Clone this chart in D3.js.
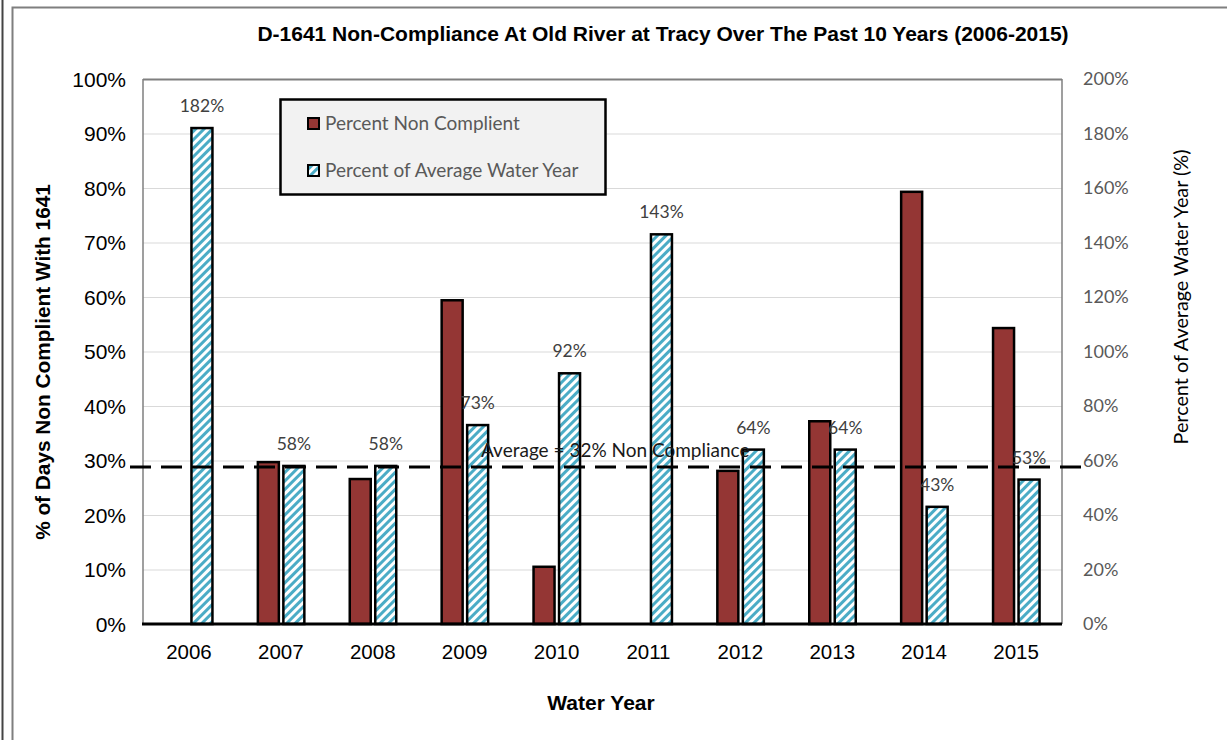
<!DOCTYPE html>
<html><head><meta charset="utf-8">
<script src="https://cdn.jsdelivr.net/npm/d3@7"></script>
<style>body{margin:0;background:#fff}svg{display:block}</style>
</head><body><svg id="c" width="1227" height="740"></svg>
<script>
const years = ["2006","2007","2008","2009","2010","2011","2012","2013","2014","2015"];
const nonCompliant = [0, 29.7, 26.6, 59.4, 10.5, 0, 28.1, 37.2, 79.3, 54.3];
const pctAvgWaterYear = [182, 58, 58, 73, 92, 143, 64, 64, 43, 53];
const averageLine = 28.8;
const leftTicks = [0,10,20,30,40,50,60,70,80,90,100];
const rightTicks = [0,20,40,60,80,100,120,140,160,180,200];

const svg = d3.select("#c");
const red = "#943634", blue = "#4bacc6";
const L = 143, R = 1062, T = 79, B = 624;
const arial = "'Liberation Sans', Arial, sans-serif";
const cal = "Lato, 'Open Sans', sans-serif";

const defs = svg.append("defs");
const pat = defs.append("pattern").attr("id","hatch").attr("patternUnits","userSpaceOnUse")
  .attr("width",6).attr("height",6).attr("patternTransform","rotate(45)");
pat.append("rect").attr("width",6).attr("height",6).attr("fill","#fff");
pat.append("rect").attr("x",0).attr("width",3).attr("height",6).attr("fill",blue);

// outer frames
svg.append("line").attr("x1",2.5).attr("x2",2.5).attr("y1",0).attr("y2",740).attr("stroke","#444").attr("stroke-width",2);
svg.append("path").attr("d","M12.5,740V7.5H1227").attr("fill","none").attr("stroke","#7f7f7f").attr("stroke-width",2);

const x = d3.scaleBand().domain(years).range([L,R]).padding(0);
const yL = d3.scaleLinear().domain([0,100]).range([B,T]);
const yR = d3.scaleLinear().domain([0,200]).range([B,T]);

// grid
svg.append("g").selectAll("line").data(leftTicks.filter(d=>d>0)).join("line")
  .attr("x1",L).attr("x2",R).attr("y1",d=>yL(d)+0.5).attr("y2",d=>yL(d)+0.5)
  .attr("stroke",d=>d===100?"#7f7f7f":"#d9d9d9").attr("stroke-width",d=>d===100?2:1);
svg.append("line").attr("x1",L).attr("x2",L).attr("y1",T).attr("y2",B).attr("stroke","#7f7f7f").attr("stroke-width",1.5);
svg.append("line").attr("x1",R).attr("x2",R).attr("y1",T).attr("y2",B).attr("stroke","#7f7f7f").attr("stroke-width",1.5);

const cx = d => x(d) + x.bandwidth()/2;
const bw = 21;
// red bars
svg.append("g").selectAll("rect").data(years.map((y,i)=>({y,v:nonCompliant[i]})).filter(d=>d.v>0)).join("rect")
  .attr("x",d=>cx(d.y)-2-bw).attr("width",bw)
  .attr("y",d=>yL(d.v)).attr("height",d=>B-yL(d.v))
  .attr("fill",red).attr("stroke","#000").attr("stroke-width",2.5);
// hatched bars
svg.append("g").selectAll("rect").data(years.map((y,i)=>({y,v:pctAvgWaterYear[i]}))).join("rect")
  .attr("x",d=>cx(d.y)+2.5).attr("width",bw)
  .attr("y",d=>yR(d.v)).attr("height",d=>B-yR(d.v))
  .attr("fill","url(#hatch)").attr("stroke","#000").attr("stroke-width",2.5);
// data labels
svg.append("g").selectAll("text").data(years.map((y,i)=>({y,v:pctAvgWaterYear[i]}))).join("text")
  .attr("x",d=>cx(d.y)+13).attr("y",d=>yR(d.v)-16)
  .attr("text-anchor","middle").attr("font-family",cal).attr("font-size",17.5)
  .attr("fill","#404040").text(d=>d.v+"%");

// bottom axis line
svg.append("line").attr("x1",L-1).attr("x2",R).attr("y1",B).attr("y2",B).attr("stroke","#000").attr("stroke-width",3);

// average dashed line
svg.append("line").attr("x1",L-13).attr("x2",R+23).attr("y1",yL(averageLine)).attr("y2",yL(averageLine))
  .attr("stroke","#000").attr("stroke-width",3).attr("stroke-dasharray","21,10");
svg.append("text").attr("x",481).attr("y",yL(averageLine)-10).attr("font-family",cal).attr("font-size",19)
  .attr("fill","#1a1a1a").text("Average = 32% Non Compliance");

// left axis labels
svg.append("g").selectAll("text").data(leftTicks).join("text")
  .attr("x",126).attr("y",d=>yL(d)+7.5).attr("text-anchor","end")
  .attr("font-family",arial).attr("font-size",21).attr("fill","#000").text(d=>d+"%");
// right axis labels
svg.append("g").selectAll("text").data(rightTicks).join("text")
  .attr("x",1083).attr("y",d=>yR(d)+6).attr("text-anchor","start")
  .attr("font-family",cal).attr("font-size",18).attr("fill","#595959").text(d=>d+"%");
// x labels
svg.append("g").selectAll("text").data(years).join("text")
  .attr("x",d=>cx(d)).attr("y",659).attr("text-anchor","middle")
  .attr("font-family",arial).attr("font-size",20.5).attr("fill","#000").text(d=>d);

// titles
svg.append("text").attr("x",663).attr("y",41).attr("text-anchor","middle")
  .attr("font-family",arial).attr("font-weight","bold").attr("font-size",21)
  .text("D-1641 Non-Compliance At Old River at Tracy Over The Past 10 Years (2006-2015)");
svg.append("text").attr("x",601).attr("y",710).attr("text-anchor","middle")
  .attr("font-family",arial).attr("font-weight","bold").attr("font-size",21)
  .text("Water Year");
svg.append("text").attr("transform","translate(50,362) rotate(-90)").attr("text-anchor","middle")
  .attr("font-family",arial).attr("font-weight","bold").attr("font-size",20.8)
  .text("% of Days Non Complient With 1641");
svg.append("text").attr("transform","translate(1188,297) rotate(-90)").attr("text-anchor","middle")
  .attr("font-family",cal).attr("font-size",19.8).attr("fill","#000")
  .text("Percent of Average Water Year (%)");

// legend
const lg = svg.append("g");
lg.append("rect").attr("x",280.5).attr("y",99.5).attr("width",325).attr("height",95)
  .attr("fill","#f2f2f2").attr("stroke","#000").attr("stroke-width",2.5);
const items = [{label:"Percent Non Complient", fill:red, y:123},{label:"Percent of Average Water Year", fill:"url(#hatch)", y:170}];
items.forEach(it=>{
  lg.append("rect").attr("x",308).attr("y",it.y-5).attr("width",11).attr("height",11)
    .attr("fill",it.fill).attr("stroke","#000").attr("stroke-width",2);
  lg.append("text").attr("x",325).attr("y",it.y+7).attr("font-family",cal).attr("font-size",19)
    .attr("fill","#595959").text(it.label);
});
</script></body></html>
